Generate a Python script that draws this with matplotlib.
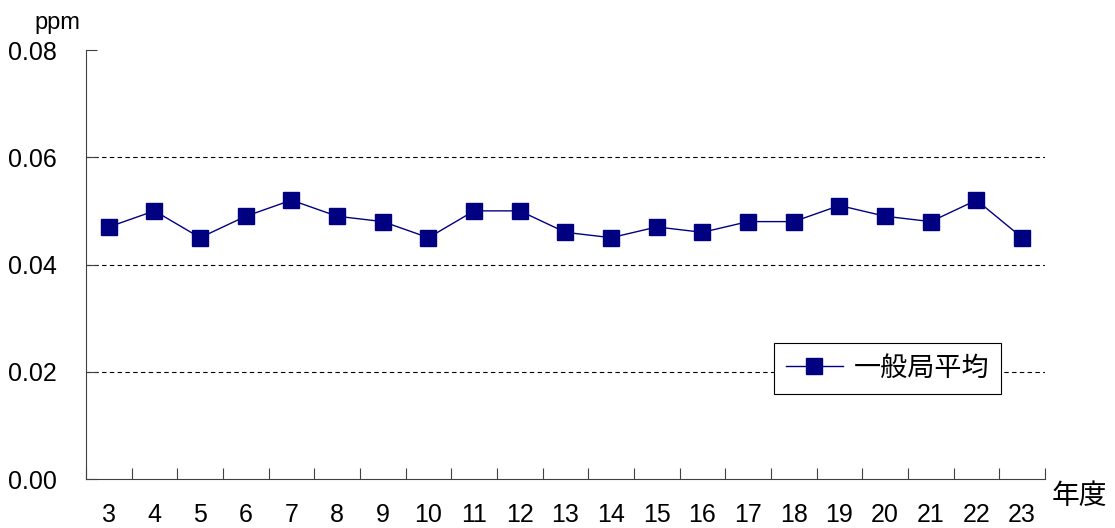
import numpy as np
import matplotlib.pyplot as plt

years = ['3', '4', '5', '6', '7', '8', '9', '10', '11', '12', '13',
         '14', '15', '16', '17', '18', '19', '20', '21', '22', '23']
avg = [0.047, 0.050, 0.045, 0.049, 0.052, 0.049, 0.048, 0.045, 0.050, 0.050, 0.046,
       0.045, 0.047, 0.046, 0.048, 0.048, 0.051, 0.049, 0.048, 0.052, 0.045]

plt.rcParams['font.family'] = ['Liberation Sans', 'Noto Sans CJK JP', 'DejaVu Sans']

fig = plt.figure(figsize=(11.15, 5.28), dpi=100)
ax = fig.add_axes([0.0771, 0.0928, 0.8601, 0.8125])

x = np.arange(len(years))
ax.plot(x, avg, color='#000080', linewidth=1, marker='s', markersize=11,
        markerfacecolor='#000080', markeredgecolor='#000080', label='一般局平均')

ax.set_xlim(-0.5, len(years) - 0.5)
ax.set_ylim(0, 0.08)
ax.set_yticks([0, 0.02, 0.04, 0.06, 0.08])
ax.set_yticklabels(['0.00', '0.02', '0.04', '0.06', '0.08'], fontsize=18)
ax.set_xticks(np.arange(-0.5, len(years)), minor=False)
ax.set_xticklabels([])
ax.set_xticks(x, minor=True)
ax.set_xticklabels(years, minor=True, fontsize=18)
ax.tick_params(axis='x', which='major', direction='in', length=8, color='#404040')
ax.tick_params(axis='x', which='minor', length=0, pad=17)
ax.tick_params(axis='y', direction='in', length=8, color='#404040', pad=21)

for v in [0.02, 0.04, 0.06]:
    ax.axhline(v, color='black', linestyle=(0, (4, 3)), linewidth=0.8, zorder=0)

for s in ['top', 'right']:
    ax.spines[s].set_visible(False)
for s in ['left', 'bottom']:
    ax.spines[s].set_color('#404040')

fig.text(0.031, 0.945, 'ppm', fontsize=17)
fig.text(0.943, 0.045, '年度', fontsize=20, family=['Noto Sans CJK JP'])

leg = ax.legend(loc='upper left', bbox_to_anchor=(0.717, 0.318), borderaxespad=0,
                fancybox=False, framealpha=1, edgecolor='black',
                prop={'family': 'Noto Sans CJK JP', 'size': 19.5},
                handlelength=2.1, borderpad=0.45, handletextpad=0.4)
leg.get_frame().set_linewidth(0.8)

fig.savefig('out.png', dpi=100)
